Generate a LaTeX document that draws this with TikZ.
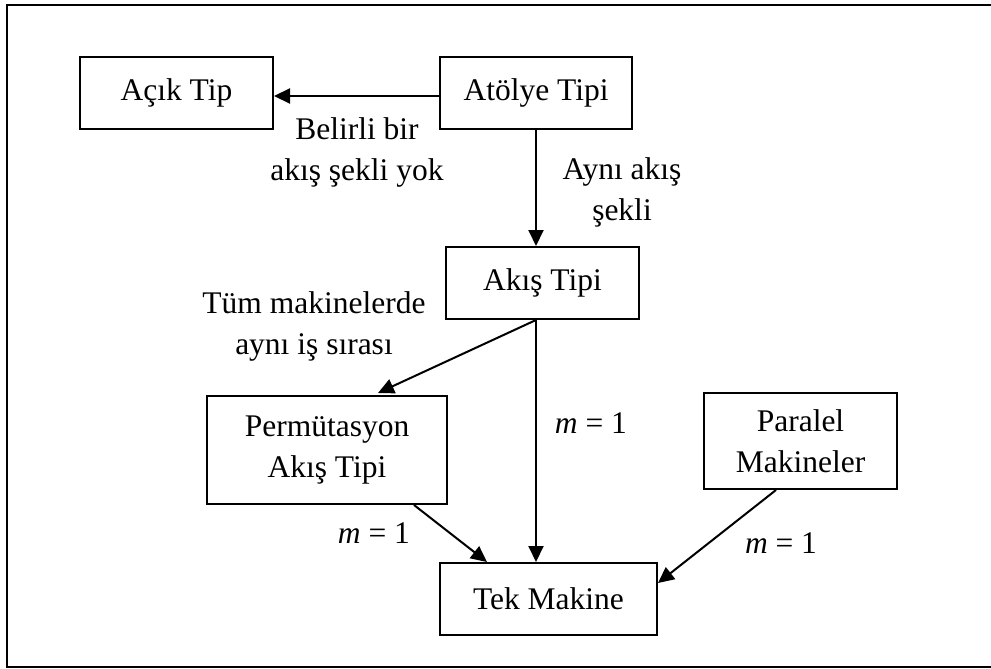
\documentclass[tikz,border=0pt]{standalone}
\usepackage{fontspec}
\setmainfont{Liberation Serif}
\usetikzlibrary{arrows.meta,calc}
\begin{document}
\begin{tikzpicture}[x=1pt,y=-1pt,
  every node/.style={font=\fontsize{31.5}{41}\selectfont, align=center},
  box/.style={draw, line width=2pt, inner sep=0pt, minimum width=#1, minimum height=72pt},
  box/.default=193pt,
  lbl/.style={inner sep=0pt},
  conn/.style={line width=2pt, -{Triangle[length=16pt,width=15pt]}}]
  \useasboundingbox (0,0) rectangle (991,669);
  % outer frame
  \begin{scope}
    \clip (0,0) rectangle (991,669);
    \draw[line width=2.5pt] (7,5) rectangle (1010,667);
  \end{scope}

  % boxes
  \node[box] (acik) at (176.5,93) {Açık Tip};
  \node[box=192pt] (atolye) at (536,93) {Atölye Tipi};
  \node[box] (akis) at (542.5,283) {Akış Tipi};
  \node[box=240pt, minimum height=108pt] (perm) at (327,450) {Permütasyon\\Akış Tipi};
  \node[box, minimum height=96pt] (paralel) at (800.5,441) {Paralel\\Makineler};
  \node[box=217pt] (tek) at (548.5,599) {Tek Makine};

  % connectors
  \draw[conn] ($(atolye.west)+(0,3)$) -- ($(acik.east)+(0,3)$);
  \draw[conn] (atolye.south) -- (atolye.south |- akis.north);
  \coordinate (akisout) at ($(akis.south)+(-6.5,0)$);
  \draw[conn] (akisout) -- ($(perm.north)+(51,-2)$);
  \draw[conn] (akisout) -- (akisout |- tek.north);
  \draw[conn] ($(perm.south)+(87,0)$) -- ($(tek.north)+(-61.5,0)$);
  \draw[conn] ($(paralel.south)+(-24.5,0)$) -- ($(tek.east)+(0,-16)$);

  % labels
  \node[lbl] (l1) at (357,152) {Belirli bir\\akış şekli yok};
  \node[lbl] (l2) at (622,192) {Aynı akış\\şekli};
  \node[lbl] (l3) at (314,326) {Tüm makinelerde\\aynı iş sırası};
  \node[lbl] (m1) at (591,423) {\textit{m} = 1};
  \node[lbl] (m2) at (374,533) {\textit{m} = 1};
  \node[lbl] (m3) at (781,543) {\textit{m} = 1};
\end{tikzpicture}
\end{document}
